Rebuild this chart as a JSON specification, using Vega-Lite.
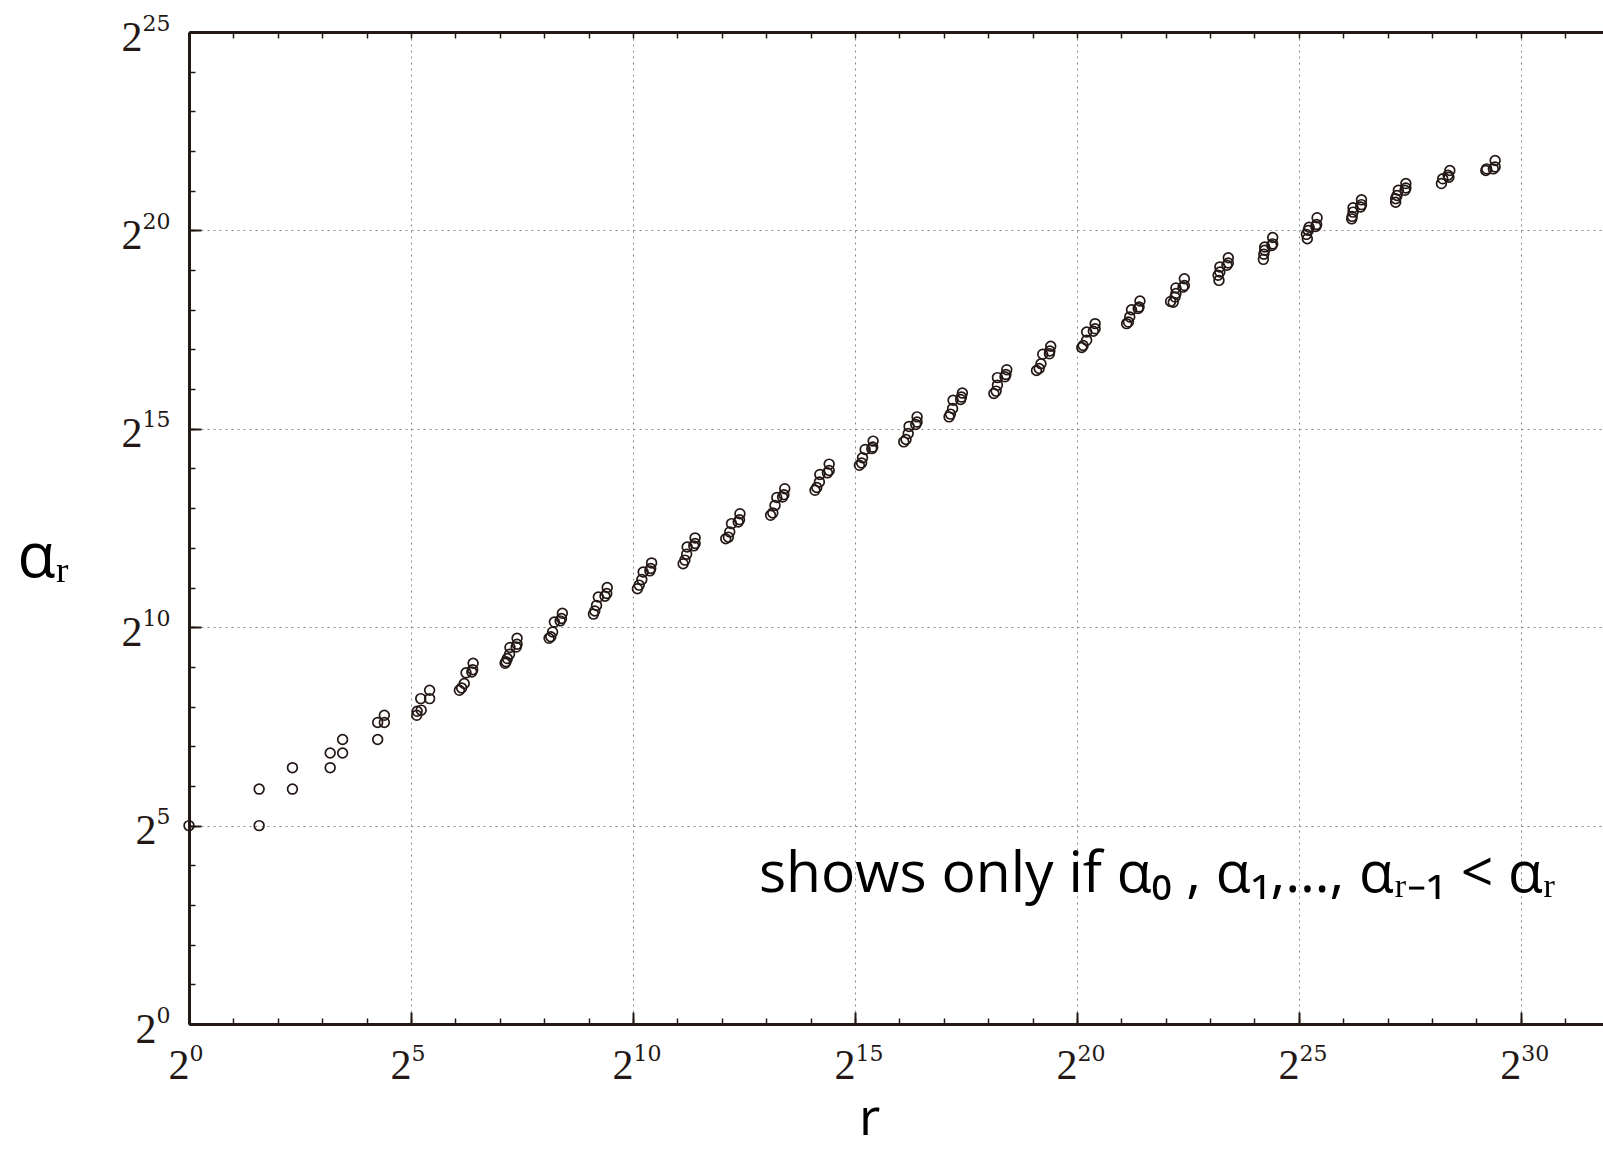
{
  "$schema": "https://vega.github.io/schema/vega-lite/v6.json",
  "width": 1414,
  "height": 992,
  "autosize": {"type": "none"},
  "padding": {"left": 189, "top": 32, "right": 0, "bottom": 127},
  "background": "white",
  "config": {"view": {"stroke": null}},
  "data": {"values": [
    {"log2_r": 0, "log2_alpha": 5}, {"log2_r": 1.58, "log2_alpha": 5}, {"log2_r": 1.58, "log2_alpha": 5.92},
    {"log2_r": 2.33, "log2_alpha": 5.92}, {"log2_r": 2.33, "log2_alpha": 6.46}, {"log2_r": 3.18, "log2_alpha": 6.46},
    {"log2_r": 3.18, "log2_alpha": 6.83}, {"log2_r": 3.46, "log2_alpha": 6.83}, {"log2_r": 3.46, "log2_alpha": 7.17},
    {"log2_r": 4.25, "log2_alpha": 7.17}, {"log2_r": 4.25, "log2_alpha": 7.6}, {"log2_r": 4.4, "log2_alpha": 7.6},
    {"log2_r": 4.4, "log2_alpha": 7.78},
    {"log2_r": 5.13, "log2_alpha": 7.78}, {"log2_r": 5.14, "log2_alpha": 7.88}, {"log2_r": 5.23, "log2_alpha": 7.91},
    {"log2_r": 5.22, "log2_alpha": 8.2}, {"log2_r": 5.42, "log2_alpha": 8.2}, {"log2_r": 5.42, "log2_alpha": 8.41},
    {"log2_r": 6.09, "log2_alpha": 8.41}, {"log2_r": 6.14, "log2_alpha": 8.47}, {"log2_r": 6.2, "log2_alpha": 8.58},
    {"log2_r": 6.24, "log2_alpha": 8.85}, {"log2_r": 6.37, "log2_alpha": 8.87}, {"log2_r": 6.39, "log2_alpha": 8.93},
    {"log2_r": 6.4, "log2_alpha": 9.09},
    {"log2_r": 7.12, "log2_alpha": 9.09}, {"log2_r": 7.14, "log2_alpha": 9.13}, {"log2_r": 7.17, "log2_alpha": 9.21},
    {"log2_r": 7.22, "log2_alpha": 9.32}, {"log2_r": 7.23, "log2_alpha": 9.49}, {"log2_r": 7.37, "log2_alpha": 9.5},
    {"log2_r": 7.39, "log2_alpha": 9.57}, {"log2_r": 7.39, "log2_alpha": 9.72},
    {"log2_r": 8.11, "log2_alpha": 9.72}, {"log2_r": 8.15, "log2_alpha": 9.76}, {"log2_r": 8.19, "log2_alpha": 9.88},
    {"log2_r": 8.23, "log2_alpha": 10.13}, {"log2_r": 8.36, "log2_alpha": 10.16}, {"log2_r": 8.39, "log2_alpha": 10.22},
    {"log2_r": 8.41, "log2_alpha": 10.35},
    {"log2_r": 9.11, "log2_alpha": 10.33}, {"log2_r": 9.14, "log2_alpha": 10.41}, {"log2_r": 9.18, "log2_alpha": 10.55},
    {"log2_r": 9.22, "log2_alpha": 10.76}, {"log2_r": 9.37, "log2_alpha": 10.78}, {"log2_r": 9.41, "log2_alpha": 10.85},
    {"log2_r": 9.42, "log2_alpha": 11.0},
    {"log2_r": 10.1, "log2_alpha": 10.97}, {"log2_r": 10.14, "log2_alpha": 11.06}, {"log2_r": 10.2, "log2_alpha": 11.2},
    {"log2_r": 10.23, "log2_alpha": 11.39}, {"log2_r": 10.38, "log2_alpha": 11.42}, {"log2_r": 10.4, "log2_alpha": 11.48},
    {"log2_r": 10.42, "log2_alpha": 11.62},
    {"log2_r": 11.13, "log2_alpha": 11.6}, {"log2_r": 11.17, "log2_alpha": 11.69}, {"log2_r": 11.21, "log2_alpha": 11.84},
    {"log2_r": 11.22, "log2_alpha": 12.02}, {"log2_r": 11.37, "log2_alpha": 12.05}, {"log2_r": 11.4, "log2_alpha": 12.11},
    {"log2_r": 11.4, "log2_alpha": 12.25},
    {"log2_r": 12.09, "log2_alpha": 12.23}, {"log2_r": 12.15, "log2_alpha": 12.27}, {"log2_r": 12.18, "log2_alpha": 12.4},
    {"log2_r": 12.22, "log2_alpha": 12.61}, {"log2_r": 12.37, "log2_alpha": 12.65}, {"log2_r": 12.4, "log2_alpha": 12.71},
    {"log2_r": 12.41, "log2_alpha": 12.86},
    {"log2_r": 13.1, "log2_alpha": 12.82}, {"log2_r": 13.15, "log2_alpha": 12.88}, {"log2_r": 13.2, "log2_alpha": 13.07},
    {"log2_r": 13.24, "log2_alpha": 13.27}, {"log2_r": 13.37, "log2_alpha": 13.28}, {"log2_r": 13.4, "log2_alpha": 13.34},
    {"log2_r": 13.42, "log2_alpha": 13.49},
    {"log2_r": 14.1, "log2_alpha": 13.45}, {"log2_r": 14.14, "log2_alpha": 13.52}, {"log2_r": 14.2, "log2_alpha": 13.66},
    {"log2_r": 14.21, "log2_alpha": 13.85}, {"log2_r": 14.38, "log2_alpha": 13.89}, {"log2_r": 14.42, "log2_alpha": 13.95},
    {"log2_r": 14.42, "log2_alpha": 14.11},
    {"log2_r": 15.1, "log2_alpha": 14.08}, {"log2_r": 15.15, "log2_alpha": 14.14}, {"log2_r": 15.17, "log2_alpha": 14.27},
    {"log2_r": 15.23, "log2_alpha": 14.48}, {"log2_r": 15.38, "log2_alpha": 14.5}, {"log2_r": 15.4, "log2_alpha": 14.54},
    {"log2_r": 15.41, "log2_alpha": 14.69},
    {"log2_r": 16.1, "log2_alpha": 14.67}, {"log2_r": 16.15, "log2_alpha": 14.73}, {"log2_r": 16.2, "log2_alpha": 14.88},
    {"log2_r": 16.22, "log2_alpha": 15.06}, {"log2_r": 16.37, "log2_alpha": 15.11}, {"log2_r": 16.4, "log2_alpha": 15.17},
    {"log2_r": 16.4, "log2_alpha": 15.3},
    {"log2_r": 17.12, "log2_alpha": 15.3}, {"log2_r": 17.15, "log2_alpha": 15.37}, {"log2_r": 17.2, "log2_alpha": 15.51},
    {"log2_r": 17.21, "log2_alpha": 15.72}, {"log2_r": 17.38, "log2_alpha": 15.74}, {"log2_r": 17.4, "log2_alpha": 15.8},
    {"log2_r": 17.42, "log2_alpha": 15.9},
    {"log2_r": 18.13, "log2_alpha": 15.89}, {"log2_r": 18.18, "log2_alpha": 15.95}, {"log2_r": 18.21, "log2_alpha": 16.1},
    {"log2_r": 18.21, "log2_alpha": 16.29}, {"log2_r": 18.38, "log2_alpha": 16.31}, {"log2_r": 18.4, "log2_alpha": 16.37},
    {"log2_r": 18.42, "log2_alpha": 16.49},
    {"log2_r": 19.09, "log2_alpha": 16.47}, {"log2_r": 19.15, "log2_alpha": 16.52}, {"log2_r": 19.19, "log2_alpha": 16.64},
    {"log2_r": 19.23, "log2_alpha": 16.88}, {"log2_r": 19.38, "log2_alpha": 16.89}, {"log2_r": 19.39, "log2_alpha": 16.96},
    {"log2_r": 19.41, "log2_alpha": 17.08},
    {"log2_r": 20.11, "log2_alpha": 17.05}, {"log2_r": 20.14, "log2_alpha": 17.1}, {"log2_r": 20.22, "log2_alpha": 17.23},
    {"log2_r": 20.22, "log2_alpha": 17.44}, {"log2_r": 20.37, "log2_alpha": 17.46}, {"log2_r": 20.41, "log2_alpha": 17.52},
    {"log2_r": 20.41, "log2_alpha": 17.65},
    {"log2_r": 21.12, "log2_alpha": 17.65}, {"log2_r": 21.16, "log2_alpha": 17.69}, {"log2_r": 21.19, "log2_alpha": 17.82},
    {"log2_r": 21.23, "log2_alpha": 18.0}, {"log2_r": 21.38, "log2_alpha": 18.03}, {"log2_r": 21.4, "log2_alpha": 18.07},
    {"log2_r": 21.42, "log2_alpha": 18.22},
    {"log2_r": 22.11, "log2_alpha": 18.21}, {"log2_r": 22.17, "log2_alpha": 18.19}, {"log2_r": 22.21, "log2_alpha": 18.32},
    {"log2_r": 22.23, "log2_alpha": 18.41}, {"log2_r": 22.23, "log2_alpha": 18.55}, {"log2_r": 22.39, "log2_alpha": 18.57},
    {"log2_r": 22.42, "log2_alpha": 18.61}, {"log2_r": 22.42, "log2_alpha": 18.78},
    {"log2_r": 23.2, "log2_alpha": 18.74}, {"log2_r": 23.18, "log2_alpha": 18.87}, {"log2_r": 23.22, "log2_alpha": 18.95},
    {"log2_r": 23.22, "log2_alpha": 19.08}, {"log2_r": 23.38, "log2_alpha": 19.12}, {"log2_r": 23.41, "log2_alpha": 19.18},
    {"log2_r": 23.41, "log2_alpha": 19.31},
    {"log2_r": 24.2, "log2_alpha": 19.27}, {"log2_r": 24.21, "log2_alpha": 19.4}, {"log2_r": 24.23, "log2_alpha": 19.5},
    {"log2_r": 24.23, "log2_alpha": 19.58}, {"log2_r": 24.39, "log2_alpha": 19.62}, {"log2_r": 24.41, "log2_alpha": 19.66},
    {"log2_r": 24.41, "log2_alpha": 19.82},
    {"log2_r": 25.19, "log2_alpha": 19.79}, {"log2_r": 25.17, "log2_alpha": 19.9}, {"log2_r": 25.21, "log2_alpha": 20.0},
    {"log2_r": 25.23, "log2_alpha": 20.08}, {"log2_r": 25.38, "log2_alpha": 20.1}, {"log2_r": 25.4, "log2_alpha": 20.15},
    {"log2_r": 25.41, "log2_alpha": 20.32},
    {"log2_r": 26.19, "log2_alpha": 20.29}, {"log2_r": 26.2, "log2_alpha": 20.35}, {"log2_r": 26.22, "log2_alpha": 20.46},
    {"log2_r": 26.22, "log2_alpha": 20.57}, {"log2_r": 26.39, "log2_alpha": 20.59}, {"log2_r": 26.41, "log2_alpha": 20.65},
    {"log2_r": 26.41, "log2_alpha": 20.77},
    {"log2_r": 27.18, "log2_alpha": 20.71}, {"log2_r": 27.18, "log2_alpha": 20.8}, {"log2_r": 27.21, "log2_alpha": 20.88},
    {"log2_r": 27.24, "log2_alpha": 21.01}, {"log2_r": 27.39, "log2_alpha": 21.01}, {"log2_r": 27.41, "log2_alpha": 21.07},
    {"log2_r": 27.41, "log2_alpha": 21.18},
    {"log2_r": 28.21, "log2_alpha": 21.18}, {"log2_r": 28.24, "log2_alpha": 21.3}, {"log2_r": 28.36, "log2_alpha": 21.39},
    {"log2_r": 28.38, "log2_alpha": 21.34}, {"log2_r": 28.4, "log2_alpha": 21.51},
    {"log2_r": 29.21, "log2_alpha": 21.51}, {"log2_r": 29.23, "log2_alpha": 21.55}, {"log2_r": 29.38, "log2_alpha": 21.55},
    {"log2_r": 29.42, "log2_alpha": 21.6}, {"log2_r": 29.42, "log2_alpha": 21.76}
  ]},
  "layer": [
    {
      "mark": {"type": "point", "shape": "circle", "filled": false, "stroke": "#231815", "strokeWidth": 1.7, "size": 95, "opacity": 1},
      "encoding": {
        "x": {
          "field": "log2_r", "type": "quantitative",
          "scale": {"domain": [0, 31.85], "nice": false, "zero": false},
          "axis": {
            "orient": "bottom",
            "values": [0, 5, 10, 15, 20, 25, 30],
            "labelExpr": "'2'",
            "labelFont": "Liberation Serif", "labelFontSize": 42, "labelColor": "#231815",
            "labelAlign": "right", "labelBaseline": "alphabetic", "labelPadding": 66, "labelFlush": false, "labelOverlap": false,
            "encode": {"labels": {"update": {"dx": {"signal": "datum.value >= 10 ? -5 : 2"}}}},
            "tickSize": -12, "tickWidth": 2, "tickColor": "#231815",
            "domainColor": "#231815", "domainWidth": 3,
            "grid": true, "gridColor": "#8a8a8a", "gridDash": [2, 4], "gridWidth": 1,
            "title": "r", "titleFont": "Open Sans", "titleFontSize": 52, "titleFontWeight": "normal", "titleColor": "#000000",
            "titleX": 680, "titleY": 110, "titleBaseline": "alphabetic", "titleAnchor": "middle"
          }
        },
        "y": {
          "field": "log2_alpha", "type": "quantitative",
          "scale": {"domain": [0, 25], "nice": false, "zero": false},
          "axis": {
            "orient": "left",
            "values": [10, 15, 20, 25],
            "labelExpr": "'2'",
            "labelFont": "Liberation Serif", "labelFontSize": 42, "labelColor": "#231815",
            "labelAlign": "right", "labelBaseline": "alphabetic", "labelPadding": 59, "labelOffset": 18,
            "labelFlush": false, "labelOverlap": false,
            "tickSize": -12, "tickWidth": 2, "tickColor": "#231815",
            "domainColor": "#231815", "domainWidth": 3,
            "grid": true, "gridColor": "#8a8a8a", "gridDash": [2, 4], "gridWidth": 1,
            "title": "αᵣ", "titleFont": "Open Sans", "titleFontSize": 62, "titleFontWeight": "normal", "titleColor": "#000000",
            "titleAngle": 0, "titleAlign": "left", "titleBaseline": "alphabetic", "titleX": -172, "titleY": 544
          }
        }
      }
    },
    {
      "mark": {"type": "point", "opacity": 0},
      "encoding": {
        "x": {"field": "log2_r", "type": "quantitative", "axis": null},
        "y": {
          "field": "log2_alpha", "type": "quantitative",
          "axis": {
            "orient": "left",
            "values": [0, 5],
            "labelExpr": "'2'",
            "labelFont": "Liberation Serif", "labelFontSize": 42, "labelColor": "#231815",
            "labelAlign": "right", "labelBaseline": "alphabetic", "labelPadding": 45, "labelOffset": 18,
            "labelFlush": false, "labelOverlap": false,
            "tickSize": -12, "tickWidth": 2, "tickColor": "#231815",
            "domain": false,
            "grid": true, "gridColor": "#8a8a8a", "gridDash": [2, 4], "gridWidth": 1,
            "title": null
          }
        }
      }
    },
    {
      "mark": {"type": "point", "opacity": 0},
      "encoding": {
        "x": {
          "field": "log2_r", "type": "quantitative",
          "axis": {
            "orient": "bottom",
            "values": [0, 5, 10, 15, 20, 25, 30],
            "labelExpr": "'' + datum.value",
            "labelFont": "DejaVu Serif", "labelFontSize": 22, "labelColor": "#231815",
            "labelAlign": "left", "labelBaseline": "alphabetic", "labelPadding": 36, "labelFlush": false, "labelOverlap": false,
            "encode": {"labels": {"update": {"dx": {"signal": "datum.value >= 10 ? -5 : 2"}}}},
            "ticks": false, "tickSize": 0, "domain": false, "grid": false, "title": null
          }
        },
        "y": {
          "field": "log2_alpha", "type": "quantitative",
          "axis": {
            "orient": "left",
            "values": [0, 5, 10, 15, 20, 25],
            "labelExpr": "'' + datum.value",
            "labelFont": "DejaVu Serif", "labelFontSize": 22, "labelColor": "#231815",
            "labelAlign": "right", "labelBaseline": "alphabetic", "labelPadding": 19, "labelOffset": -2,
            "labelFlush": false, "labelOverlap": false,
            "ticks": false, "tickSize": 0, "domain": false, "grid": false, "title": null
          }
        }
      }
    },
    {
      "mark": {"type": "point", "opacity": 0},
      "encoding": {
        "x": {
          "field": "log2_r", "type": "quantitative",
          "axis": {
            "orient": "bottom",
            "values": [0,1,2,3,4,5,6,7,8,9,10,11,12,13,14,15,16,17,18,19,20,21,22,23,24,25,26,27,28,29,30,31],
            "labels": false, "domain": false, "grid": false, "title": null,
            "tickSize": -6, "tickWidth": 1.5, "tickColor": "#231815"
          }
        },
        "y": {
          "field": "log2_alpha", "type": "quantitative",
          "axis": {
            "orient": "left",
            "values": [0,1,2,3,4,5,6,7,8,9,10,11,12,13,14,15,16,17,18,19,20,21,22,23,24,25],
            "labels": false, "domain": false, "grid": false, "title": null,
            "tickSize": -6, "tickWidth": 1.5, "tickColor": "#231815"
          }
        }
      }
    },
    {
      "mark": {"type": "point", "opacity": 0},
      "encoding": {
        "x": {
          "field": "log2_r", "type": "quantitative",
          "axis": {
            "orient": "top",
            "values": [0,1,2,3,4,5,6,7,8,9,10,11,12,13,14,15,16,17,18,19,20,21,22,23,24,25,26,27,28,29,30,31],
            "labels": false, "domain": true, "domainColor": "#231815", "domainWidth": 3, "grid": false, "title": null,
            "tickSize": -6, "tickWidth": 1.5, "tickColor": "#231815"
          }
        },
        "y": {"field": "log2_alpha", "type": "quantitative", "axis": null}
      }
    },
    {
      "data": {"values": [{"note": "shows only if α₀ , α₁,…, αᵣ₋₁ < αᵣ"}]},
      "mark": {"type": "text", "align": "right", "baseline": "alphabetic", "font": "Open Sans", "fontSize": 57, "color": "#000000"},
      "encoding": {
        "text": {"field": "note", "type": "nominal"},
        "x": {"datum": 30.79, "type": "quantitative", "axis": null},
        "y": {"datum": 3.32, "type": "quantitative", "axis": null}
      }
    }
  ],
  "resolve": {"axis": {"x": "independent", "y": "independent"}}
}
